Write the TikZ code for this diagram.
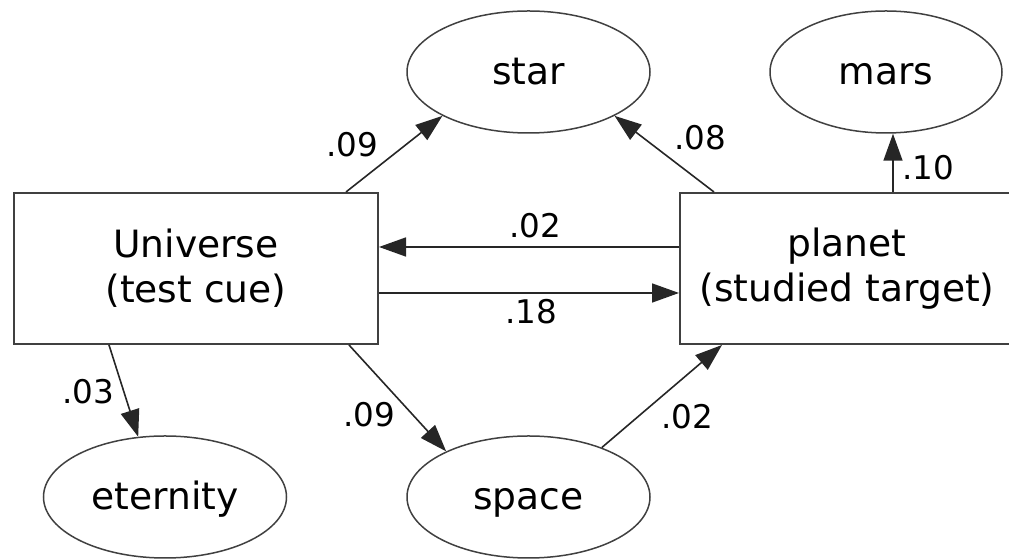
\documentclass[tikz,border=0pt]{standalone}
\usepackage{fontspec}
\setmainfont{DejaVu Sans}
\usetikzlibrary{shapes.geometric,arrows.meta}
\tikzset{
  box/.style={draw=black!75,line width=1pt,align=center,minimum height=75.5pt,
    font=\fontsize{18.8}{22.5}\selectfont},
  oval/.style={ellipse,draw=black!75,line width=.75pt,minimum width=121.5pt,
    minimum height=61pt,text height=17.5pt,text depth=4.5pt,inner sep=0pt,
    font=\fontsize{18.8}{22.5}\selectfont},
  link/.style={draw=black!85,line width=.8pt,-{Triangle[length=13.5pt,width=9.5pt]}},
  coef/.style={font=\fontsize{16.3}{19}\selectfont}
}
\begin{document}
\begin{tikzpicture}[x=0.5pt,y=-0.5pt]
\useasboundingbox (0,0) rectangle (1009,560);
% boxes
\node[box,minimum width=182pt] (uni) at (196,268.5) {Universe\\(test cue)};
\node[box,minimum width=167pt] (planet) at (847,268.5) {planet\\(studied target)};
% associates
\node[oval] (star) at (528.5,72) {star};
\node[oval,minimum width=116pt] (mars) at (886,72) {mars};
\node[oval] (eternity) at (165,497) {eternity};
\node[oval] (space) at (528.5,497) {space};
% paths
\draw[link] ([xshift=-16.5pt]uni.north east) -- (star.207);
\draw[link] ([xshift=17.5pt]planet.north west) -- (star.333);
\draw[link] ([xshift=3.5pt]mars.south |- planet.north) -- ([xshift=3.5pt]mars.south);
\draw[link] ([yshift=10.75pt]planet.west) -- ([yshift=10.75pt]uni.east);
\draw[link] ([yshift=-12.25pt]uni.east) -- ([yshift=-12.25pt]planet.west);
\draw[link] ([xshift=48pt]uni.south west) -- (eternity.114);
\draw[link] ([xshift=-15pt]uni.south east) -- (space.151);
\draw[link] (space.34) -- ([xshift=21.5pt]planet.south west);
% weights
\node[coef] (wstar) at (352,145) {.09};
\node[coef] (wback) at (700,137.5) {.08};
\node[coef] (wmars) at (928,168) {.10};
\node[coef] (wtop) at (535,226) {.02};
\node[coef] (wfwd) at (531,312) {.18};
\node[coef] (weter) at (88,392) {.03};
\node[coef] (wspace) at (369,415) {.09};
\node[coef] (wsp) at (687,417) {.02};
\end{tikzpicture}
\end{document}
